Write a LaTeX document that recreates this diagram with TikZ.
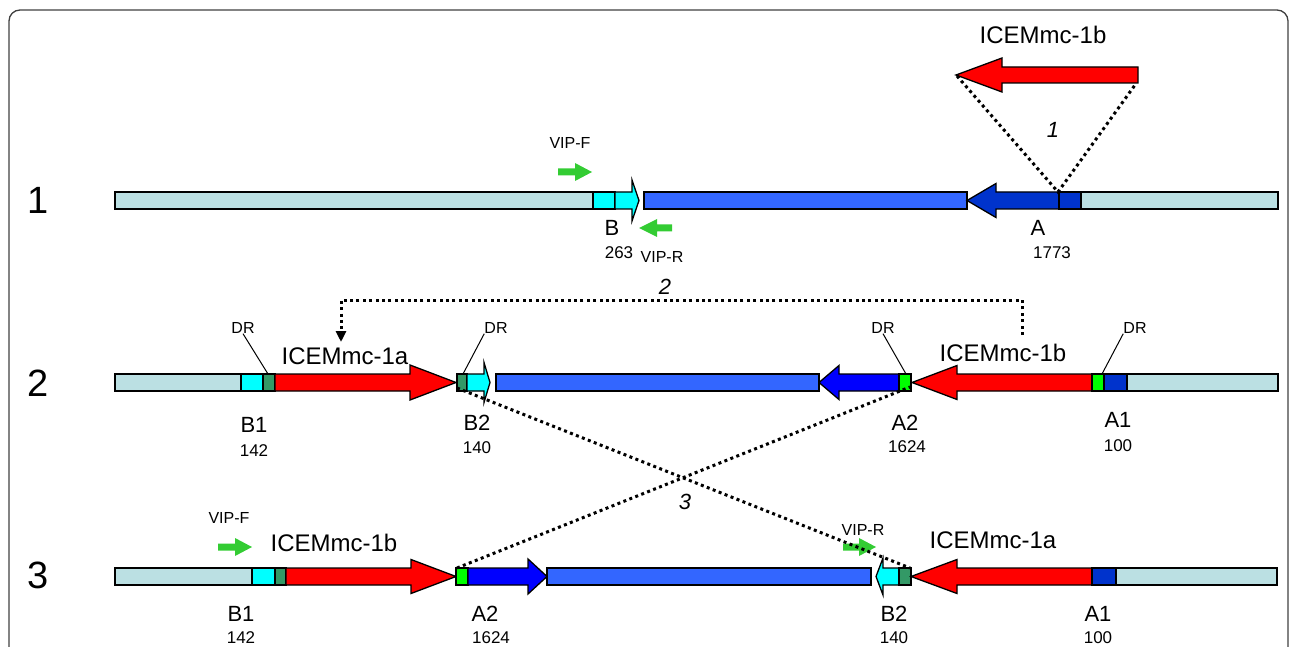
\documentclass[tikz,border=0pt]{standalone}
\usepackage{fontspec}
\setmainfont{Liberation Sans}
\usepackage{tikz}
\usetikzlibrary{arrows.meta}
\definecolor{chrom}{RGB}{187,224,227}
\definecolor{attcyan}{RGB}{0,255,255}
\definecolor{icebar}{RGB}{51,102,255}
\definecolor{attblue}{RGB}{0,51,204}
\definecolor{intblue}{RGB}{0,0,255}
\definecolor{icered}{RGB}{255,0,0}
\definecolor{drgreen}{RGB}{51,153,102}
\definecolor{drlime}{RGB}{0,255,0}
\definecolor{vipgreen}{RGB}{51,204,51}
\definecolor{framegray}{RGB}{64,64,64}
\tikzstyle{seg} = [draw, line width=1.3pt]
\tikzstyle{primer} = [fill=vipgreen]
\tikzstyle{dots} = [line width=3pt, dash pattern=on 3pt off 3.4pt]
\tikzstyle{lead} = [draw, line width=1pt]
% gene arrow: style, y, tail x, head base x, tip x, half shaft, half head
\newcommand{\genearrow}[7]{\path[#1] (#3,#2-#6) -- (#4,#2-#6) -- (#4,#2-#7) -- (#5,#2) -- (#4,#2+#7) -- (#4,#2+#6) -- (#3,#2+#6) -- cycle;}

\begin{document}
\begin{tikzpicture}[x=1pt,y=-1pt,
    rownum/.style={inner sep=0,font=\fontsize{38}{40}\selectfont},
    ice/.style={inner sep=0,font=\fontsize{24}{26}\selectfont},
    site/.style={inner sep=0,font=\fontsize{22}{24}\selectfont},
    size/.style={inner sep=0,font=\fontsize{17}{19}\selectfont},
    tag/.style={inner sep=0,font=\fontsize{16}{18}\selectfont},
    stepno/.style={inner sep=0,font=\fontsize{22}{24}\selectfont\itshape}]

    \useasboundingbox (0,0) rectangle (1293,647);
    \draw[framegray, line width=1.3pt, rounded corners=11pt] (9,647) -- (9,10) -- (1288,10) -- (1288,647);

    \node[rownum] (rowa) at (38,200) {1};
    \node[rownum] (rowb) at (38,383) {2};
    \node[rownum] (rowc) at (38,575) {3};

    % row 1
    \draw[seg, fill=chrom] (115,192) rectangle (593,209);
    \draw[seg, fill=attcyan] (593,192) rectangle (615,209);
    \genearrow{seg, fill=attcyan}{200.5}{615}{632}{639}{8.5}{20.5}
    \draw[seg, fill=icebar] (644,192) rectangle (967,209);
    \genearrow{seg, fill=attblue}{200.5}{1059}{996}{967}{8.5}{17}
    \draw[seg, fill=attblue] (1059,192) rectangle (1081,209);
    \draw[seg, fill=chrom] (1081,192) rectangle (1278,209);

    \genearrow{seg, fill=icered}{75}{1138}{1002}{956}{8}{17}
    \node[ice] (icetop) at (1043,35) {ICEMmc-1b};

    \genearrow{primer}{172}{558}{575}{592}{3.5}{9}
    \node[tag] (vipfa) at (570,143) {VIP-F};
    \genearrow{primer}{228}{672}{657}{639}{3.5}{9}
    \node[tag] (vipra) at (662,257) {VIP-R};

    \node[site] (sb) at (612,228) {B};
    \node[size] (sbn) at (619,253) {263};
    \node[site] (sa) at (1038,228) {A};
    \node[size] (san) at (1052,253) {1773};

    \coordinate (toptip) at (957,76);
    \coordinate (toptail) at (1135,85);
    \coordinate (siteA) at (1058,192);
    \draw[dots] (toptip) -- (siteA) -- (toptail);
    \node[stepno] (one) at (1053,130) {1};

    % row 2
    \draw[seg, fill=chrom] (115,374) rectangle (241,391);
    \draw[seg, fill=attcyan] (241,374) rectangle (263,391);
    \draw[seg, fill=drgreen] (263,374) rectangle (275,391);
    \genearrow{seg, fill=icered}{382.5}{275}{410}{456}{8.5}{17.5}
    \draw[seg, fill=drgreen] (457,374) rectangle (467,391);
    \genearrow{seg, fill=attcyan}{382.5}{467}{484}{490}{8.5}{20}
    \draw[seg, fill=icebar] (496,374) rectangle (819,391);
    \genearrow{seg, fill=intblue}{382.5}{899}{839}{819}{8.5}{17}
    \draw[seg, fill=drlime] (899,374) rectangle (911,391);
    \genearrow{seg, fill=icered}{382.5}{1092}{957}{912}{8.5}{17}
    \draw[seg, fill=drlime] (1092,374) rectangle (1104,391);
    \draw[seg, fill=attblue] (1104,374) rectangle (1127,391);
    \draw[seg, fill=chrom] (1127,374) rectangle (1278,391);

    \node[ice] (icea) at (345,356) {ICEMmc-1a};
    \node[ice] (iceb) at (1003,353) {ICEMmc-1b};

    \node[tag] (dra) at (243,328) {DR};
    \node[tag] (drb) at (496,328) {DR};
    \node[tag] (drc) at (883,328) {DR};
    \node[tag] (drd) at (1135,328) {DR};
    \coordinate (dra-e) at (268,374);
    \coordinate (drb-e) at (463,374);
    \coordinate (drc-e) at (906,374);
    \coordinate (drd-e) at (1102,374);
    \draw[lead] (dra.south) -- (dra-e);
    \draw[lead] (drb.south west) -- (drb-e);
    \draw[lead] (drc.south) -- (drc-e);
    \draw[lead] (drd.south west) -- (drd-e);

    \node[site] (sbone) at (254,425) {B1};
    \node[size] (sbonen) at (254,451) {142};
    \node[site] (sbtwo) at (477,423) {B2};
    \node[size] (sbtwon) at (477,448) {140};
    \node[site] (satwo) at (905,423) {A2};
    \node[size] (satwon) at (907,447) {1624};
    \node[site] (saone) at (1118,420) {A1};
    \node[size] (saonen) at (1118,446) {100};

    \coordinate (exfrom) at (1022,335);
    \coordinate (exto) at (341,342);
    \draw[dots, -{Triangle[width=10pt,length=11pt]}] (exfrom) |- (620,300) -| (exto);
    \node[stepno] (two) at (665,287) {2};

    % row 3
    \draw[seg, fill=chrom] (115,568) rectangle (252,585);
    \draw[seg, fill=attcyan] (252,568) rectangle (275,585);
    \draw[seg, fill=drgreen] (275,568) rectangle (286,585);
    \genearrow{seg, fill=icered}{576.5}{286}{411}{456}{8.5}{17}
    \draw[seg, fill=drlime] (456,568) rectangle (468,585);
    \genearrow{seg, fill=intblue}{576.5}{468}{528}{547}{8.5}{17.5}
    \draw[seg, fill=icebar] (547,568) rectangle (871,585);
    \genearrow{seg, fill=attcyan}{576.5}{899}{883}{876}{8.5}{18.5}
    \draw[seg, fill=drgreen] (899,568) rectangle (911,585);
    \genearrow{seg, fill=icered}{576.5}{1092}{957}{911}{8.5}{17}
    \draw[seg, fill=attblue] (1092,568) rectangle (1116,585);
    \draw[seg, fill=chrom] (1116,568) rectangle (1277,585);

    \genearrow{primer}{547}{218}{235}{252}{3.5}{9}
    \node[tag] (vipfc) at (229,518) {VIP-F};
    \genearrow{primer}{547}{843}{859}{876}{3.5}{9}
    \node[tag] (viprc) at (863,530) {VIP-R};

    \node[ice] (icec) at (334,543) {ICEMmc-1b};
    \node[ice] (iced) at (993,540) {ICEMmc-1a};

    \node[site] (tbone) at (241,614) {B1};
    \node[size] (tbonen) at (241,638) {142};
    \node[site] (tatwo) at (485,614) {A2};
    \node[size] (tatwon) at (491,638) {1624};
    \node[site] (tbtwo) at (894,614) {B2};
    \node[size] (tbtwon) at (894,638) {140};
    \node[site] (taone) at (1098,614) {A1};
    \node[size] (taonen) at (1098,638) {100};

    \coordinate (bjoin) at (457,388);
    \coordinate (ajoin) at (910,387);
    \coordinate (anew) at (457,568);
    \coordinate (bnew) at (910,568);
    \draw[dots] (bjoin) -- (bnew);
    \draw[dots] (anew) -- (ajoin);
    \node[stepno] (three) at (685,502) {3};

\end{tikzpicture}
\end{document}
